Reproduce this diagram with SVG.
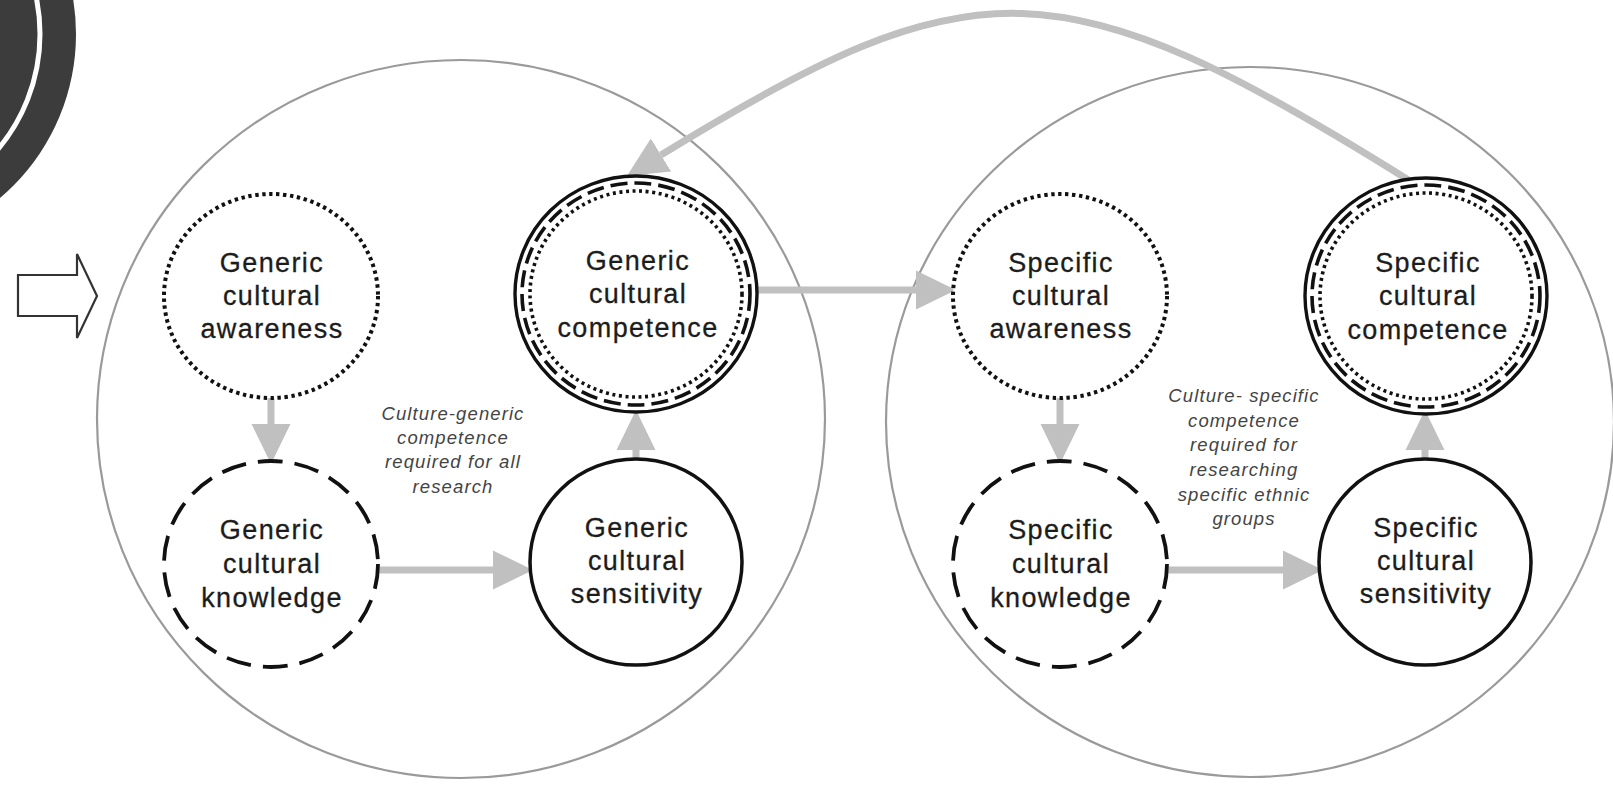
<svg xmlns="http://www.w3.org/2000/svg" width="1613" height="786" viewBox="0 0 1613 786">
<defs>
<style>
.big{fill:none;stroke:#9a9a9a;stroke-width:2.2}
.dot{fill:#fff;stroke:#111;stroke-width:4;stroke-dasharray:3.4 3.6}
.dash{fill:#fff;stroke:#111;stroke-width:3.8;stroke-dasharray:25 12}
.solid{fill:#fff;stroke:#111;stroke-width:3.5}
.ring1{fill:#fff;stroke:#111;stroke-width:3.4}
.ring2{fill:none;stroke:#111;stroke-width:3.6;stroke-dasharray:17 7}
.ring3{fill:none;stroke:#111;stroke-width:3.6;stroke-dasharray:3 3.6}
.lbl{font-family:"Liberation Sans",Arial,sans-serif;font-size:27px;fill:#1c1c1c;stroke:#1c1c1c;stroke-width:0.3;text-anchor:middle;letter-spacing:1.4px}
.ann{font-family:"Liberation Sans",Arial,sans-serif;font-size:18.5px;font-style:italic;fill:#444;text-anchor:middle;letter-spacing:1.1px}
.arr{fill:none;stroke:#c0c0c0;stroke-width:7}
</style>
<marker id="ah" markerUnits="userSpaceOnUse" markerWidth="40" markerHeight="40" refX="0" refY="18" orient="auto" viewBox="0 0 37 36">
<path d="M0,0 L37,18 L0,36 z" fill="#c0c0c0"/>
</marker>
</defs>
<rect width="1613" height="786" fill="#fff"/>
<g id="corner">
<circle cx="-139" cy="34" r="215" fill="#3c3c3c"/>
<circle cx="-139" cy="34" r="179" fill="none" stroke="#fff" stroke-width="5"/>
</g>
<g id="entry-arrow">
<polygon points="18,275 77,275 77,254 97,296 77,338 77,316 18,316" fill="#fff" stroke="#333" stroke-width="2.2" stroke-linejoin="miter"/>
</g>
<g id="generic-group">
<ellipse class="big" cx="461" cy="419" rx="364" ry="359"/>
</g>
<g id="specific-group">
<ellipse class="big" cx="1250" cy="422" rx="364" ry="355"/>
</g>
<g id="connectors">
<path class="arr" d="M271,398 L271,424" marker-end="url(#ah)"/>
<path class="arr" d="M378,570 L493,570" marker-end="url(#ah)"/>
<path class="arr" d="M636,462 L636,450" marker-end="url(#ah)"/>
<path class="arr" d="M756,290 L916,290" marker-end="url(#ah)"/>
<path class="arr" d="M1060,398 L1060,424" marker-end="url(#ah)"/>
<path class="arr" d="M1167,570 L1283,570" marker-end="url(#ah)"/>
<path class="arr" d="M1425,462 L1425,450" marker-end="url(#ah)"/>
<path class="arr" d="M1410,181 C1060,-38 975,-38 661,155" marker-end="url(#ah)"/>
</g>
<g id="generic-awareness">
<ellipse class="dot" cx="271" cy="296" rx="107" ry="102"/>
<text class="lbl" x="272" y="272">Generic</text>
<text class="lbl" x="272" y="305">cultural</text>
<text class="lbl" x="272" y="338">awareness</text>
</g>
<g id="generic-knowledge">
<ellipse class="dash" cx="271" cy="564" rx="107" ry="103"/>
<text class="lbl" x="272" y="539">Generic</text>
<text class="lbl" x="272" y="573">cultural</text>
<text class="lbl" x="272" y="607">knowledge</text>
</g>
<g id="generic-sensitivity">
<ellipse class="solid" cx="636" cy="562" rx="106" ry="103"/>
<text class="lbl" x="637" y="537">Generic</text>
<text class="lbl" x="637" y="570">cultural</text>
<text class="lbl" x="637" y="603">sensitivity</text>
</g>
<g id="generic-competence">
<ellipse class="ring1" cx="636" cy="294" rx="121" ry="118"/>
<ellipse class="ring2" cx="636" cy="294" rx="114" ry="111"/>
<ellipse class="ring3" cx="636" cy="294" rx="106" ry="103"/>
<text class="lbl" x="638" y="270">Generic</text>
<text class="lbl" x="638" y="303">cultural</text>
<text class="lbl" x="638" y="337">competence</text>
</g>
<g id="generic-note">
<text class="ann" x="453" y="420">Culture-generic</text>
<text class="ann" x="453" y="444">competence</text>
<text class="ann" x="453" y="468">required for all</text>
<text class="ann" x="453" y="493">research</text>
</g>
<g id="specific-awareness">
<ellipse class="dot" cx="1060" cy="296" rx="107" ry="102"/>
<text class="lbl" x="1061" y="272">Specific</text>
<text class="lbl" x="1061" y="305">cultural</text>
<text class="lbl" x="1061" y="338">awareness</text>
</g>
<g id="specific-knowledge">
<ellipse class="dash" cx="1060" cy="564" rx="107" ry="103"/>
<text class="lbl" x="1061" y="539">Specific</text>
<text class="lbl" x="1061" y="573">cultural</text>
<text class="lbl" x="1061" y="607">knowledge</text>
</g>
<g id="specific-sensitivity">
<ellipse class="solid" cx="1425" cy="562" rx="106" ry="103"/>
<text class="lbl" x="1426" y="537">Specific</text>
<text class="lbl" x="1426" y="570">cultural</text>
<text class="lbl" x="1426" y="603">sensitivity</text>
</g>
<g id="specific-competence">
<ellipse class="ring1" cx="1426" cy="296" rx="121" ry="118"/>
<ellipse class="ring2" cx="1426" cy="296" rx="114" ry="111"/>
<ellipse class="ring3" cx="1426" cy="296" rx="106" ry="103"/>
<text class="lbl" x="1428" y="272">Specific</text>
<text class="lbl" x="1428" y="305">cultural</text>
<text class="lbl" x="1428" y="339">competence</text>
</g>
<g id="specific-note">
<text class="ann" x="1244" y="402">Culture- specific</text>
<text class="ann" x="1244" y="427">competence</text>
<text class="ann" x="1244" y="451">required for</text>
<text class="ann" x="1244" y="476">researching</text>
<text class="ann" x="1244" y="501">specific ethnic</text>
<text class="ann" x="1244" y="525">groups</text>
</g>
</svg>
